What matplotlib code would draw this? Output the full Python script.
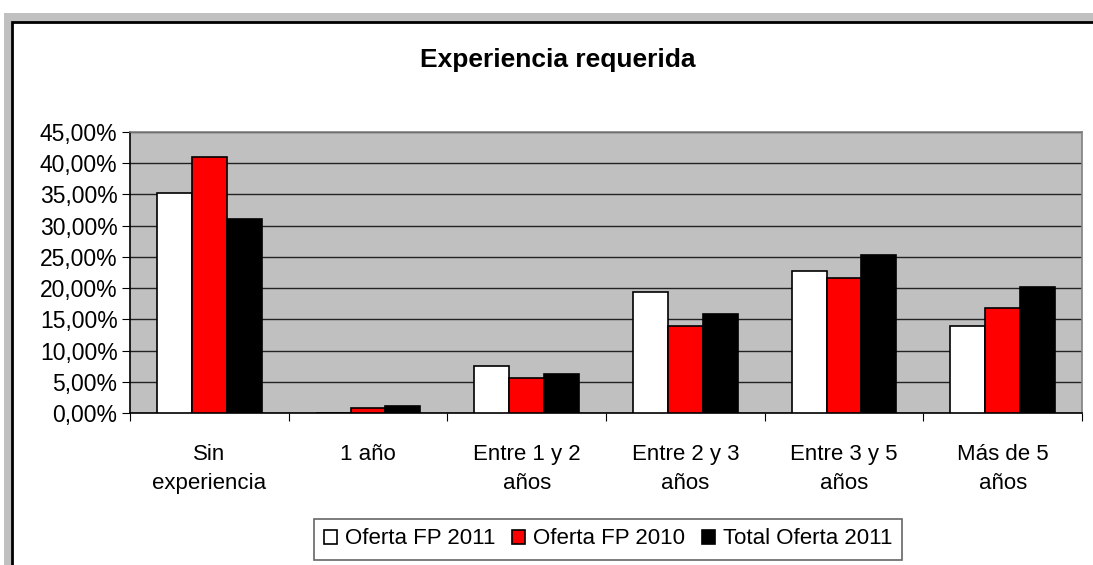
import matplotlib
matplotlib.use("Agg")
import matplotlib.pyplot as plt
import numpy as np
from matplotlib.patches import Rectangle
from matplotlib.ticker import FuncFormatter

categories = ["Sin\nexperiencia", "1 año", "Entre 1 y 2\naños", "Entre 2 y 3\naños",
              "Entre 3 y 5\naños", "Más de 5\naños"]
series_names = ["Oferta FP 2011", "Oferta FP 2010", "Total Oferta 2011"]
oferta_fp_2011 = [35.2, 0.0, 7.5, 19.4, 22.7, 13.9]
oferta_fp_2010 = [41.0, 0.8, 5.6, 13.9, 21.6, 16.8]
total_oferta_2011 = [31.1, 1.1, 6.2, 15.9, 25.3, 20.2]
colors = ["#ffffff", "#ff0000", "#000000"]

plt.rcParams['font.family'] = ['Liberation Sans', 'DejaVu Sans']

W, H = 1093, 565
fig = plt.figure(figsize=(W / 100, H / 100), dpi=100)
fig.patch.set_facecolor("white")

# outer gray frame and chart border
fig.patches.append(Rectangle((4 / W, 0), 1, 1 - 13 / H, transform=fig.transFigure,
                             facecolor="#c0c0c0", edgecolor="none", zorder=-2))
fig.patches.append(Rectangle((12 / W, -0.01), 1, 1 - 22 / H + 0.01, transform=fig.transFigure,
                             facecolor="white", edgecolor="black", linewidth=2, zorder=-1))

ax = fig.add_axes([130 / W, 1 - 413 / H, 952 / W, 281 / H])
ax.set_zorder(2)
ax.set_facecolor("#c0c0c0")

x = np.arange(len(categories))
bw = 0.22
for i, (vals, name, c) in enumerate(zip([oferta_fp_2011, oferta_fp_2010, total_oferta_2011],
                                        series_names, colors)):
    ax.bar(x + (i - 1) * bw, vals, width=bw, color=c, edgecolor="black", linewidth=1.2,
           label=name, zorder=3)

ax.set_xlim(-0.5, len(categories) - 0.5)
ax.set_ylim(0, 45)
ax.set_yticks(np.arange(0, 46, 5))
ax.yaxis.set_major_formatter(FuncFormatter(lambda v, p: f"{v:.2f}".replace(".", ",") + "%"))
ax.yaxis.grid(True, color="#222222", linewidth=1, zorder=1)
ax.set_axisbelow(True)

ax.set_xticks(np.arange(-0.5, len(categories), 1))
ax.set_xticklabels([])
ax.set_xticks(x, minor=True)
ax.set_xticklabels(categories, minor=True, fontsize=16, linespacing=1.55)
ax.tick_params(axis="x", which="minor", length=0, pad=22)
ax.tick_params(axis="x", which="major", length=6, color="black", direction="out")
ax.tick_params(axis="y", length=6, color="black", labelsize=16.5, pad=3)

for side in ["top", "right", "left", "bottom"]:
    ax.spines[side].set_color("#808080")
    ax.spines[side].set_linewidth(1.2)
ax.spines["left"].set_color("black")
ax.spines["bottom"].set_color("black")

fig.text(558 / W, 1 - 60 / H, "Experiencia requerida", ha="center", va="center",
         fontsize=19, fontweight="bold")

leg = fig.legend(loc="center", bbox_to_anchor=(608 / W, 1 - 539 / H), ncol=3,
                 fontsize=16, frameon=True, fancybox=False, edgecolor="#404040",
                 handlelength=0.6, handleheight=0.6, handletextpad=0.35, columnspacing=0.75,
                 borderpad=0.45, borderaxespad=0)
leg.set_zorder(3)
leg.get_frame().set_linewidth(1.2)

fig.savefig("out.png", dpi=100)
